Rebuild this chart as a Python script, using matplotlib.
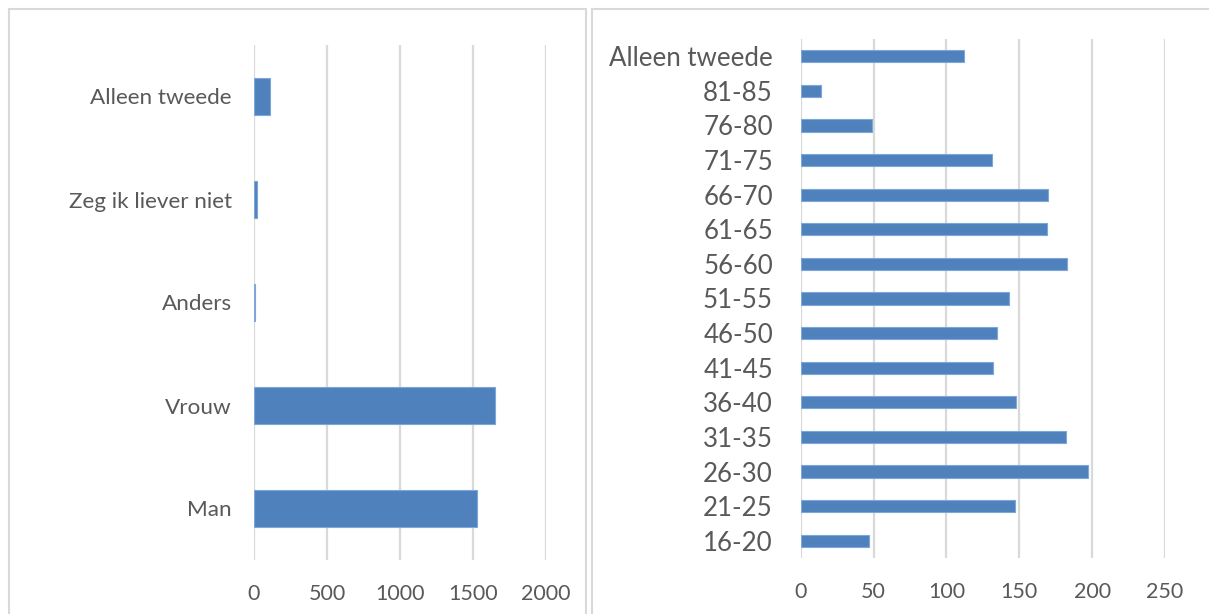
import matplotlib.pyplot as plt
from matplotlib.patches import Rectangle

# gegevens
geslacht = ["Man", "Vrouw", "Anders", "Zeg ik liever niet", "Alleen tweede"]
geslacht_aantal = [1532, 1655, 5, 18, 112]

leeftijd = ["16-20", "21-25", "26-30", "31-35", "36-40", "41-45", "46-50",
            "51-55", "56-60", "61-65", "66-70", "71-75", "76-80", "81-85",
            "Alleen tweede"]
leeftijd_aantal = [47, 147, 197, 182, 148, 132, 135, 143, 183, 169, 170,
                   131, 49, 14, 112]

blauw = "#4F81BD"
rand = "#7EA6D8"
grijs = "#D9D9D9"
tekst = "#595959"

plt.rcParams['font.family'] = ['Lato', 'DejaVu Sans']

fig = plt.figure(figsize=(12.09, 6.14), dpi=100)

# kaders van de twee grafieken
fig.patches.append(Rectangle((9 / 1209, -0.1), (586 - 9) / 1209, 1.1 - 9.5 / 614,
                             transform=fig.transFigure, fill=False,
                             edgecolor=grijs, linewidth=1.5))
fig.patches.append(Rectangle((592 / 1209, -0.1), 0.6, 1.1 - 9.5 / 614,
                             transform=fig.transFigure, fill=False,
                             edgecolor=grijs, linewidth=1.5))


def opmaak(ax, xmax, stap, labelsize, pad):
    ax.set_xlim(0, xmax)
    ax.set_xticks(range(0, xmax + 1, stap))
    ax.grid(axis='x', color=grijs, linewidth=1.6)
    ax.set_axisbelow(True)
    for s in ax.spines.values():
        s.set_visible(False)
    ax.tick_params(axis='both', length=0, colors=tekst)
    ax.tick_params(axis='x', labelsize=15.5, pad=17)
    ax.tick_params(axis='y', labelsize=labelsize, pad=pad)


ax1 = fig.add_axes([254 / 1209, 1 - 560 / 614, (545.7 - 254) / 1209, (560 - 45) / 614])
ax1.barh(geslacht, geslacht_aantal, height=0.35, color=blauw, edgecolor=rand, linewidth=0.8)
ax1.set_ylim(-0.5, len(geslacht) - 0.5)
opmaak(ax1, 2000, 500, 16.2, 16)

ax2 = fig.add_axes([800.7 / 1209, 1 - 558 / 614, (1165 - 800.7) / 1209, (558 - 39) / 614])
ax2.barh(leeftijd, leeftijd_aantal, height=0.35, color=blauw, edgecolor=rand, linewidth=0.8)
ax2.set_ylim(-0.5, len(leeftijd) - 0.5)
opmaak(ax2, 250, 50, 18.6, 20)

fig.savefig("out.png", dpi=100)
